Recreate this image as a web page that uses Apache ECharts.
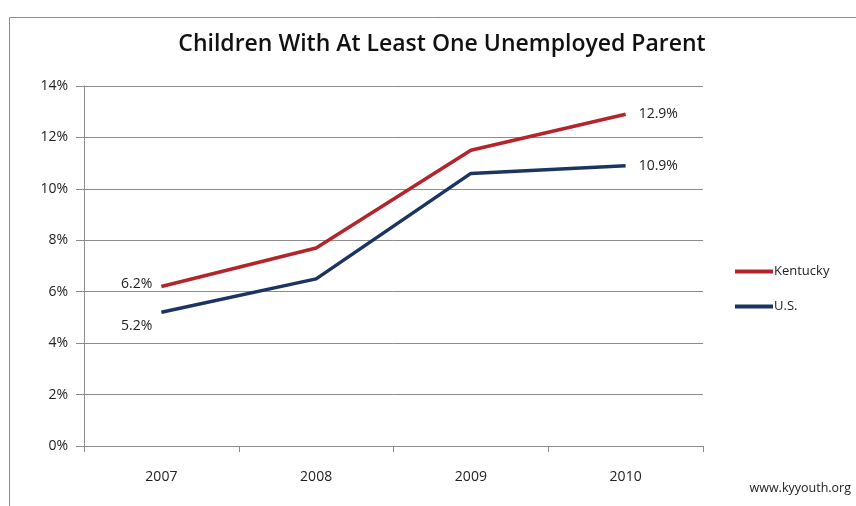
<!DOCTYPE html>
<html><head><meta charset="utf-8">
<script src="https://cdn.jsdelivr.net/npm/echarts@6/dist/echarts.min.js"></script>
<style>html,body{margin:0;padding:0;background:#fff}#c{width:856px;height:506px}</style>
</head><body><div id="c"></div>
<script>
const years = ['2007','2008','2009','2010'];
const kentucky = [6.2, 7.7, 11.5, 12.9];
const us = [5.2, 6.5, 10.6, 10.9];
const yTicks = [0,2,4,6,8,10,12,14];

const chart = echarts.init(document.getElementById('c'));
const font = 'Open Sans, Liberation Sans, sans-serif';
function endLabels(arr, pos) {
  return arr.map((v,i)=>{
    const o = {value:v};
    if (i===0) o.label = {show:true, position:'left', offset:pos==='above'?[-4,-3]:[-4,14], formatter:v.toFixed(1)+'%'};
    else if (i===arr.length-1) o.label = {show:true, position:'right', offset:[8,0], formatter:v.toFixed(1)+'%'};
    return o;
  });
}
chart.setOption({
  animation:false,
  title:{text:'Children With At Least One Unemployed Parent', left:437, textAlign:'center', top:28,
    textStyle:{fontFamily:font, fontSize:23, fontWeight:600, color:'#111'}},
  graphic:[
    {type:'rect', shape:{x:9.5,y:17.5,width:900,height:600}, style:{fill:'none', stroke:'#8c8c8c', lineWidth:1}, z:-1},
    {type:'text', right:5, top:482, style:{text:'www.kyyouth.org', font:'12.5px '+font, fill:'#222'}}
  ],
  grid:{left:84, right:153, top:86, bottom:60},
  legend:{orient:'vertical', left:730, top:260, itemWidth:38, itemHeight:4, itemGap:22,
    icon:'rect', textStyle:{fontFamily:font, fontSize:13, color:'#222', padding:[0,0,0,-4]},
    data:['Kentucky','U.S.']},
  xAxis:{type:'category', data:years, boundaryGap:true,
    axisLine:{lineStyle:{color:'#8c8c8c', width:1}},
    axisTick:{show:true, length:6, lineStyle:{color:'#8c8c8c'}},
    axisLabel:{fontFamily:font, fontSize:14, color:'#222', margin:24}},
  yAxis:{type:'value', min:0, max:14, interval:2,
    axisLine:{show:true, lineStyle:{color:'#8c8c8c'}},
    axisTick:{show:true, length:8, lineStyle:{color:'#8c8c8c'}},
    splitLine:{lineStyle:{color:'#8c8c8c', width:1}},
    axisLabel:{fontFamily:font, fontSize:14, color:'#222', margin:16, formatter:v=>v+'%'}},
  series:[
    {name:'Kentucky', type:'line', data:endLabels(kentucky,'above'), showSymbol:true, symbol:'circle', symbolSize:0,
      lineStyle:{color:'#b3242b', width:3.5}, itemStyle:{color:'#b3242b'},
      label:{fontFamily:font, fontSize:14, color:'#222'}},
    {name:'U.S.', type:'line', data:endLabels(us,'below'), showSymbol:true, symbol:'circle', symbolSize:0,
      lineStyle:{color:'#1c3461', width:3.5}, itemStyle:{color:'#1c3461'},
      label:{fontFamily:font, fontSize:14, color:'#222'}}
  ]
});
</script></body></html>
